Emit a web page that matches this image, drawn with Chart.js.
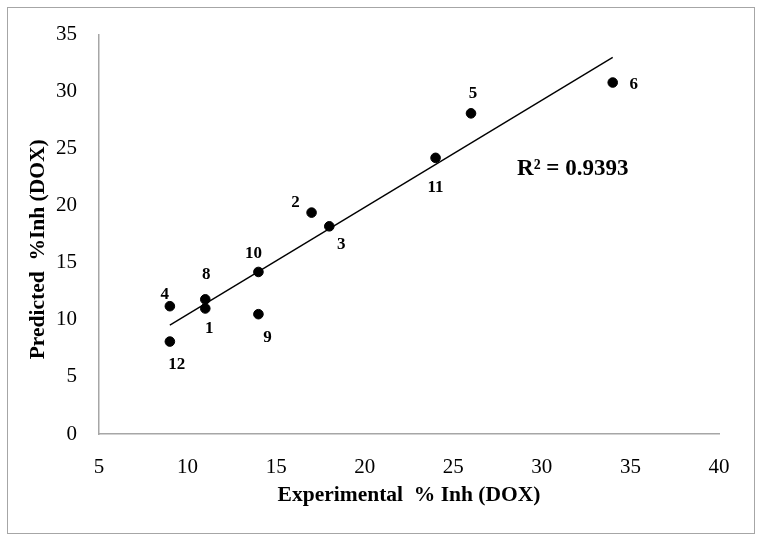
<!DOCTYPE html>
<html>
<head>
<meta charset="utf-8">
<script src="https://cdn.jsdelivr.net/npm/chart.js@4"></script>
<style>
  html, body { margin: 0; padding: 0; background: #ffffff; }
  #wrap { position: relative; width: 766px; height: 543px; }
  #frame { position: absolute; left: 7px; top: 7px; width: 746px; height: 525px; border: 1.5px solid #a6a6a6; pointer-events: none; }
  canvas { position: absolute; left: 0; top: 0; }
</style>
</head>
<body>
<div id="wrap">
  <canvas id="c" width="766" height="543"></canvas>
  <div id="frame"></div>
</div>
<script>
// ---- data ----
const pointLabels = ['1', '2', '3', '4', '5', '6', '8', '9', '10', '11', '12'];
const experimental = [11, 17, 18, 9, 26, 34, 11, 14, 14, 24, 9];
const predicted = [11.0, 19.4, 18.2, 11.2, 28.1, 30.8, 11.8, 10.5, 14.2, 24.2, 8.1];
const xTicks = [5, 10, 15, 20, 25, 30, 35, 40];
const yTicks = [0, 5, 10, 15, 20, 25, 30, 35];
const rSquaredText = 'R² = 0.9393';
const xTitle = 'Experimental  % Inh (DOX)';
const yTitle = 'Predicted  %Inh (DOX)';

// label offsets in pixels (style only)
const labelOffsets = [[4, 20], [-16, -10], [12, 18], [-5, -12], [2, -20], [21, 2], [1, -25], [9, 23], [-5, -18], [0, 30], [7, 23]];

// linear regression trendline from the data
const n = experimental.length;
const mx = experimental.reduce((a, b) => a + b, 0) / n;
const my = predicted.reduce((a, b) => a + b, 0) / n;
let sxy = 0, sxx = 0;
for (let i = 0; i < n; i++) { sxy += (experimental[i] - mx) * (predicted[i] - my); sxx += (experimental[i] - mx) ** 2; }
const slope = sxy / sxx;
const intercept = my - slope * mx;
const xMin = Math.min(...experimental), xMax = Math.max(...experimental);
const trend = [{x: xMin, y: intercept + slope * xMin}, {x: xMax, y: intercept + slope * xMax}];

const points = experimental.map((x, i) => ({x: x, y: predicted[i]}));

const serif = "'Liberation Serif', 'Times New Roman', serif";

const labelPlugin = {
  id: 'pointLabels',
  afterDatasetsDraw(chart) {
    const ctx = chart.ctx;
    const xs = chart.scales.x, ys = chart.scales.y;
    ctx.save();
    ctx.fillStyle = '#000';
    ctx.font = "bold 17px " + serif;
    ctx.textAlign = 'center';
    ctx.textBaseline = 'middle';
    points.forEach((p, i) => {
      const px = xs.getPixelForValue(p.x) + labelOffsets[i][0];
      const py = ys.getPixelForValue(p.y) + labelOffsets[i][1];
      ctx.fillText(pointLabels[i], px, py);
    });
    ctx.font = "bold 23px " + serif;
    ctx.textAlign = 'left';
    ctx.fillText(rSquaredText, xs.getPixelForValue(28.6), ys.getPixelForValue(23.25));
    // y-axis title (drawn slightly below the axis centre, as in the reference)
    ctx.font = "bold 21.5px " + serif;
    ctx.textAlign = 'center';
    ctx.translate(38, (chart.chartArea.top + chart.chartArea.bottom) / 2 + 15);
    ctx.rotate(-Math.PI / 2);
    ctx.fillText(yTitle, 0, 0);
    ctx.restore();
  }
};

new Chart(document.getElementById('c'), {
  type: 'scatter',
  data: {
    datasets: [
      {
        label: 'Compounds',
        data: points,
        backgroundColor: '#000',
        borderColor: '#000',
        pointRadius: 4.8,
        pointHoverRadius: 4.8,
        order: 1
      },
      {
        label: 'Linear trend',
        data: trend,
        type: 'line',
        showLine: true,
        borderColor: '#000',
        borderWidth: 1.4,
        pointRadius: 0,
        fill: false,
        order: 2
      }
    ]
  },
  options: {
    responsive: false,
    animation: false,
    events: [],
    layout: { padding: { left: 0, top: 25, right: 47, bottom: 0 } },
    plugins: { legend: { display: false }, tooltip: { enabled: false } },
    scales: {
      x: {
        type: 'linear',
        min: xTicks[0],
        max: xTicks[xTicks.length - 1],
        afterBuildTicks: (s) => { s.ticks = xTicks.map(v => ({value: v})); },
        afterFit: (s) => { s.height = 109; },
        grid: { display: false, drawTicks: false },
        border: { display: true, color: '#a6a6a6', width: 1.5 },
        ticks: { padding: 21, color: '#000', font: { family: serif, size: 21 } },
        title: { display: true, text: xTitle, color: '#000', font: { family: serif, size: 21.5, weight: 'bold' }, padding: { top: 0, bottom: 35 } }
      },
      y: {
        type: 'linear',
        min: yTicks[0],
        max: yTicks[yTicks.length - 1],
        afterBuildTicks: (s) => { s.ticks = yTicks.map(v => ({value: v})); },
        afterFit: (s) => { s.width = 99; },
        grid: { display: false, drawTicks: false },
        border: { display: true, color: '#a6a6a6', width: 1.5 },
        ticks: { padding: 22, color: '#000', font: { family: serif, size: 21 } },
        title: { display: false, text: yTitle }
      }
    }
  },
  plugins: [labelPlugin]
});
</script>
</body>
</html>
